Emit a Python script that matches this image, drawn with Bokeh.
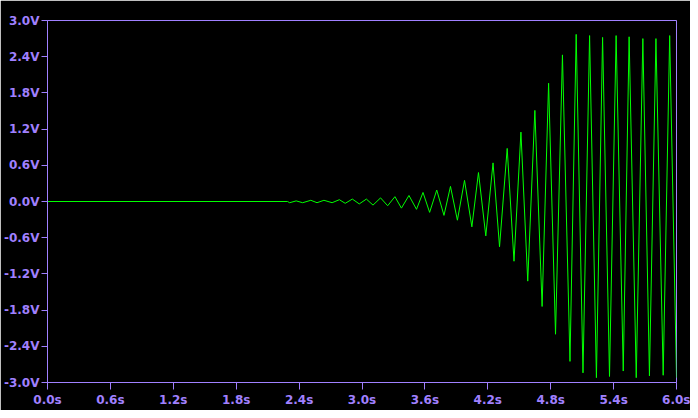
from bokeh.plotting import figure
from bokeh.models import FixedTicker, CustomJSTickFormatter, Label, Range1d
from bokeh.embed import file_html
from bokeh.resources import INLINE

# Waveform V(vo): turning points (time in s, volts)
time_s = [0.0, 2.29, 2.31, 2.372, 2.434, 2.512, 2.571, 2.637, 2.715, 2.784, 2.840,
          2.908, 2.974, 3.042, 3.105, 3.177, 3.245, 3.314, 3.376, 3.448, 3.520,
          3.582, 3.645, 3.713, 3.782, 3.844, 3.910, 3.978, 4.048, 4.111, 4.181,
          4.250, 4.312, 4.385, 4.450, 4.516, 4.581, 4.649, 4.718, 4.780, 4.846,
          4.912, 4.984, 5.043, 5.108, 5.171, 5.236, 5.295, 5.361, 5.424, 5.492,
          5.548, 5.616, 5.679, 5.742, 5.804, 5.873, 5.935, 6.0]
volts = [0.0, 0.0, -0.02, 0.01, -0.02, 0.02, -0.02, 0.02, -0.02, 0.03, -0.03,
         0.04, -0.04, 0.04, -0.06, 0.06, -0.07, 0.08, -0.11, 0.10, -0.13,
         0.15, -0.18, 0.19, -0.23, 0.25, -0.31, 0.35, -0.42, 0.48, -0.57,
         0.64, -0.75, 0.88, -0.99, 1.15, -1.32, 1.51, -1.74, 1.96, -2.20,
         2.43, -2.65, 2.77, -2.84, 2.75, -2.92, 2.72, -2.90, 2.75, -2.81,
         2.73, -2.92, 2.70, -2.89, 2.70, -2.88, 2.75, -2.92]

x_ticks = [0.0, 0.6, 1.2, 1.8, 2.4, 3.0, 3.6, 4.2, 4.8, 5.4, 6.0]
y_ticks = [-3.0, -2.4, -1.8, -1.2, -0.6, 0.0, 0.6, 1.2, 1.8, 2.4, 3.0]
title_text = "V(vo)"

AXIS = "#a080ff"
TRACE = "#00ff00"
FONT = "DejaVu Sans"

p = figure(width=690, height=410, output_backend="svg", toolbar_location=None,
           x_range=Range1d(0, 6), y_range=Range1d(-3, 3),
           background_fill_color="black", border_fill_color="black",
           min_border_left=43, min_border_right=14, min_border_top=20,
           min_border_bottom=28)
p.outline_line_color = AXIS
p.outline_line_width = 1
p.xgrid.visible = False
p.ygrid.visible = False

p.line(time_s, volts, line_color=TRACE, line_width=1)

for ax in (p.xaxis[0], p.yaxis[0]):
    ax.axis_line_color = AXIS
    ax.major_tick_line_color = AXIS
    ax.minor_tick_line_color = None
    ax.major_tick_in = 0
    ax.major_label_text_color = AXIS
    ax.major_label_text_font = FONT
    ax.major_label_text_font_style = "bold"
    ax.major_label_text_font_size = "12px"

p.xaxis[0].ticker = FixedTicker(ticks=x_ticks)
p.yaxis[0].ticker = FixedTicker(ticks=y_ticks)
p.xaxis[0].formatter = CustomJSTickFormatter(code="return tick.toFixed(1) + 's';")
p.yaxis[0].formatter = CustomJSTickFormatter(code="return tick.toFixed(1) + 'V';")
p.xaxis[0].major_tick_out = 7
p.xaxis[0].major_label_standoff = 3
p.yaxis[0].major_tick_out = 6
p.yaxis[0].major_label_standoff = 2

p.add_layout(Label(x=2.99, y=3.16, text=title_text, text_color=TRACE,
                   text_font=FONT, text_font_style="bold", text_font_size="12px",
                   text_align="center", text_baseline="middle"))

open("out.html", "w").write(file_html(p, INLINE))
